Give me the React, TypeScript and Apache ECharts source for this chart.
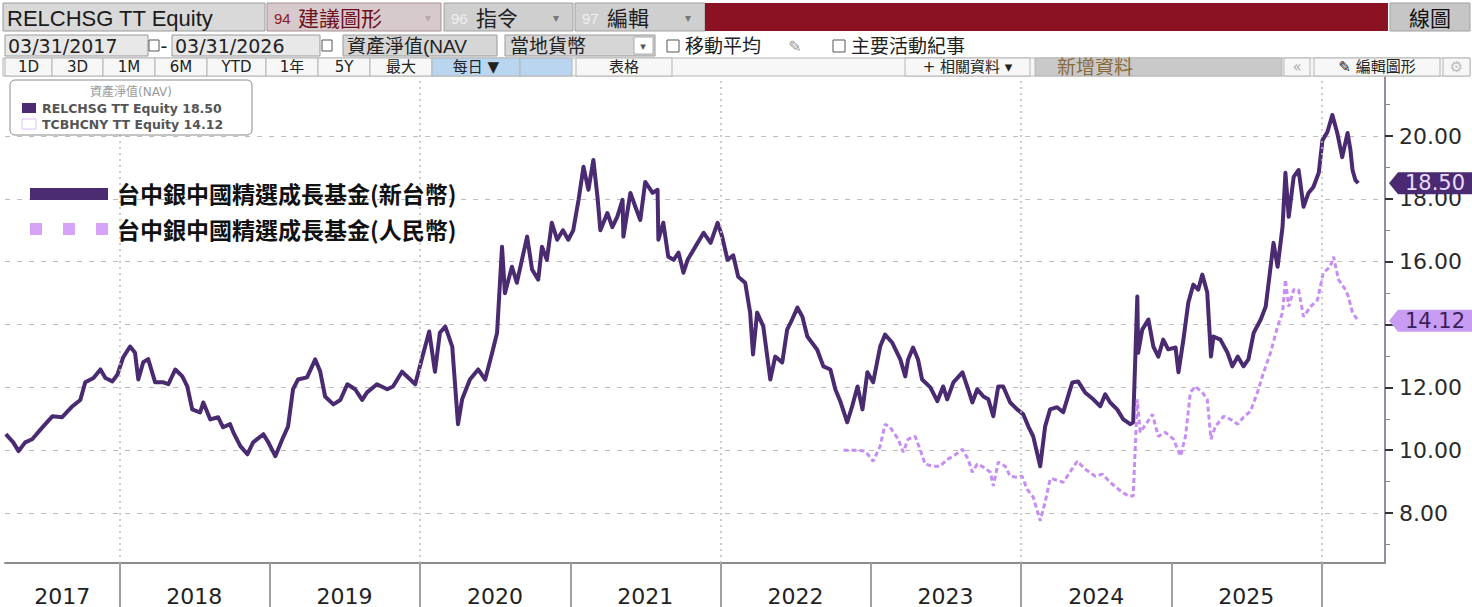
import React, { useEffect, useRef } from 'react';
import * as echarts from 'echarts';

// ---------------- DATA ----------------
const twdDates = [
  '2017-03-31','2017-04-18','2017-05-01','2017-05-17','2017-06-03','2017-06-30','2017-07-22','2017-08-15','2017-09-09','2017-09-28','2017-10-10','2017-10-30','2017-11-16','2017-11-28','2017-12-15','2017-12-27',
  '2018-01-10','2018-01-27','2018-02-08','2018-02-16','2018-02-28','2018-03-12','2018-03-29','2018-04-18','2018-04-30','2018-05-17','2018-06-03','2018-06-15','2018-06-27','2018-07-16','2018-07-24','2018-08-10','2018-08-29','2018-09-10','2018-09-27','2018-10-05','2018-10-22','2018-11-08','2018-11-22','2018-12-17','2018-12-29',
  '2019-01-15','2019-02-01','2019-02-15','2019-02-27','2019-03-11','2019-04-02','2019-04-22','2019-05-04','2019-05-16','2019-06-05','2019-06-22','2019-07-09','2019-07-28','2019-08-14','2019-08-26','2019-09-19','2019-10-14','2019-10-28','2019-11-19','2019-12-09','2019-12-21',
  '2020-01-07','2020-01-24','2020-02-07','2020-02-19','2020-03-03','2020-03-20','2020-04-03','2020-04-13','2020-05-02','2020-05-22','2020-06-08','2020-06-25','2020-07-07','2020-07-19','2020-07-26','2020-08-12','2020-08-24','2020-09-18','2020-09-30','2020-10-15','2020-10-24','2020-11-05','2020-11-17','2020-11-30','2020-12-14','2020-12-27',
  '2021-01-08','2021-01-21','2021-02-02','2021-02-14','2021-02-26','2021-03-08','2021-03-15','2021-04-01','2021-04-13','2021-04-25','2021-05-08','2021-05-10','2021-05-27','2021-06-08','2021-06-20','2021-07-02','2021-07-20','2021-08-01','2021-08-03','2021-08-15','2021-08-27','2021-09-09','2021-09-21','2021-10-03','2021-10-13','2021-11-01','2021-11-21','2021-12-08','2021-12-25',
  '2022-01-05','2022-01-18','2022-02-01','2022-02-13','2022-03-02','2022-03-14','2022-03-21','2022-03-31','2022-04-15','2022-05-02','2022-05-14','2022-05-31','2022-06-12','2022-06-24','2022-07-07','2022-07-19','2022-07-31','2022-08-24','2022-09-08','2022-09-25','2022-10-07','2022-10-19','2022-11-05','2022-11-17','2022-11-30','2022-12-12','2022-12-24',
  '2023-01-07','2023-01-24','2023-02-05','2023-02-22','2023-03-14','2023-03-26','2023-04-02','2023-04-14','2023-04-26','2023-05-06','2023-05-26','2023-06-12','2023-06-26','2023-07-06','2023-07-21','2023-08-12','2023-08-26','2023-09-05','2023-09-17','2023-10-02','2023-10-14','2023-10-26','2023-11-07','2023-11-19','2023-12-06','2023-12-23',
  '2024-01-07','2024-01-19','2024-01-31','2024-02-17','2024-02-29','2024-03-12','2024-03-29','2024-04-13','2024-05-05','2024-05-19','2024-06-05','2024-06-25','2024-07-12','2024-07-24','2024-08-05','2024-08-22','2024-09-06','2024-09-23','2024-09-30','2024-10-10','2024-10-12','2024-10-22','2024-11-06','2024-11-18','2024-11-30','2024-12-12','2024-12-24',
  '2025-01-11','2025-01-18','2025-01-30','2025-02-11','2025-02-23','2025-03-07','2025-03-17','2025-03-29','2025-04-07','2025-04-13','2025-04-30','2025-05-17','2025-05-29','2025-06-11','2025-06-25','2025-07-07','2025-07-20','2025-08-06','2025-08-18','2025-08-30','2025-09-06','2025-09-16','2025-09-28','2025-10-05','2025-10-13','2025-10-25','2025-11-06','2025-11-18','2025-11-30','2025-12-12','2025-12-25',
  '2026-01-03','2026-01-15','2026-01-27','2026-02-08','2026-02-20','2026-03-05','2026-03-12','2026-03-17','2026-03-24','2026-03-31',
];
const twdValues = [
  10.51,10.25,9.97,10.25,10.35,10.76,11.08,11.05,11.4,11.6,12.16,12.3,12.57,12.3,12.19,12.4,
  12.95,13.3,13.1,12.25,12.8,12.9,12.16,12.16,12.1,12.57,12.35,12.03,11.3,11.2,11.52,10.98,11.05,10.73,10.83,10.57,10.13,9.87,10.25,10.51,10.25,
  9.81,10.35,10.76,11.94,12.25,12.32,12.89,12.51,11.71,11.46,11.6,12.1,11.94,11.6,11.84,12.1,11.94,12.03,12.5,12.25,12.1,
  12.95,13.78,12.5,13.74,13.94,13.3,10.83,11.62,12.25,12.57,12.25,13.1,13.74,16.48,15.0,15.84,15.33,16.8,15.75,15.43,16.48,16.06,17.24,16.7,17.0,16.7,
  17.0,17.97,19.02,18.29,19.24,18.06,17.0,17.55,17.1,17.43,17.97,16.8,18.19,17.75,17.33,18.54,18.19,18.29,16.7,17.24,16.16,16.06,16.29,15.65,16.06,16.48,16.92,16.6,17.24,
  16.8,16.06,16.2,15.52,15.33,14.38,13.05,14.38,13.94,12.25,12.98,12.79,13.84,14.16,14.54,14.25,13.62,13.2,12.67,12.57,11.94,11.56,10.89,11.4,12.03,11.3,12.48,
  12.16,13.3,13.68,13.43,12.89,12.35,12.89,13.27,12.89,12.25,12.0,11.56,12.03,11.62,12.16,12.48,11.94,11.52,11.94,11.71,11.62,11.08,12.03,12.03,11.52,11.3,
  11.14,10.76,10.44,9.49,10.76,11.3,11.37,11.21,12.16,12.19,11.84,11.62,11.4,11.78,11.52,11.3,10.98,10.83,10.89,14.89,13.1,13.84,14.16,13.3,12.98,13.52,13.21,
  13.27,12.48,13.52,14.7,15.27,15.11,15.59,15.02,12.98,13.62,13.52,13.11,12.67,12.98,12.67,12.89,13.74,14.16,14.57,15.84,16.6,15.84,17.11,18.83,17.43,18.7,18.92,17.75,18.19,18.38,18.83,
  19.87,20.13,20.67,20.1,19.33,20.1,19.56,18.92,18.6,18.5,
];
const cnyDates = [
  '2022-10-27','2022-11-30','2022-12-19',
  '2023-01-07','2023-01-24','2023-02-05','2023-02-17','2023-03-09','2023-03-21','2023-04-02','2023-04-19','2023-05-01','2023-05-13','2023-06-02','2023-06-19','2023-07-06','2023-07-21','2023-08-12','2023-08-26','2023-09-05','2023-09-17','2023-10-02','2023-10-19','2023-10-26','2023-11-07','2023-11-24','2023-12-06','2023-12-23',
  '2024-01-04','2024-01-16','2024-01-31','2024-02-17','2024-02-29','2024-03-12','2024-03-20','2024-04-13','2024-05-17','2024-06-05','2024-06-30','2024-07-17','2024-08-05','2024-08-25','2024-09-18','2024-09-30','2024-10-10','2024-10-17','2024-11-03','2024-11-16','2024-11-30','2024-12-17',
  '2025-01-06','2025-01-23','2025-02-04','2025-02-16','2025-02-28','2025-03-17','2025-03-29','2025-04-07','2025-04-18','2025-05-08','2025-05-25','2025-06-11','2025-06-25','2025-07-12','2025-07-29','2025-08-13','2025-08-30','2025-09-16','2025-09-28','2025-10-05','2025-10-13','2025-10-25','2025-11-06','2025-11-18','2025-12-05','2025-12-22',
  '2026-01-05','2026-01-22','2026-01-30','2026-02-11','2026-02-28','2026-03-07','2026-03-17','2026-03-31',
];
const cnyValues = [
  10.0,10.0,9.97,
  9.65,10.13,10.83,10.73,10.35,9.94,10.35,10.44,10.03,9.56,9.49,9.49,9.71,9.81,10.03,9.71,9.3,9.56,9.46,9.3,8.86,9.62,9.49,9.17,9.14,
  9.17,8.76,8.51,7.75,8.35,9.08,9.08,8.98,9.65,9.4,9.17,9.24,8.98,8.76,8.54,8.54,11.62,10.57,10.89,11.14,10.44,10.57,
  10.35,9.81,10.44,11.84,12.03,11.84,11.62,10.35,10.76,11.08,10.98,10.83,11.05,11.24,11.84,12.48,13.11,13.94,14.38,15.43,14.57,15.11,15.11,14.25,14.57,14.79,
  15.65,15.84,16.16,15.43,15.11,14.89,14.38,14.12,
];
const yearStarts = ['2018-01-01','2019-01-01','2020-01-01','2021-01-01','2022-01-01','2023-01-01','2024-01-01','2025-01-01','2026-01-01'];
const yearLabelDates = ['2017-08-15','2018-07-02','2019-07-02','2020-07-02','2021-07-02','2022-07-02','2023-07-02','2024-07-02','2025-07-02'];
const gridYearDates = ['2018-01-01','2020-01-01','2022-01-01','2024-01-01','2026-01-01'];
const yMajorTicks = [8, 10, 12, 14, 16, 18, 20];
// 14.00 sits under the 14.12 value tag in the reference, so it is not labelled
const yLabelValues = [8, 10, 12, 16, 18, 20];
const yMinorTicks = [7, 9, 11, 13, 15, 17, 19, 21];
const xStart = '2017-03-29';
const xEnd = '2026-06-04';
const yMin = 6.41;
const yMax = 21.88;
const twdTicker = 'RELCHSG TT Equity';
const cnyTicker = 'TCBHCNY TT Equity';
const twdName = '台中銀中國精選成長基金(新台幣)';
const cnyName = '台中銀中國精選成長基金(人民幣)';
const legendTitle = '資產淨值(NAV)';
const startDateText = '03/31/2017';
const endDateText = '03/31/2026';

// ---------------- STYLE ----------------
const DARK = '#4a2a70';
const LIGHT = '#c68ef2';
const LIGHT_SQ = '#d6a3f8';
const FONT_UI = '"Liberation Sans", "Noto Sans CJK TC", sans-serif';
const FONT_V = '"DejaVu Sans", "Noto Sans CJK TC", sans-serif';
const FONT_CJK = '"Noto Sans CJK TC", "Noto Sans", sans-serif';

const ts = (s: string) => new Date(s + 'T00:00:00').getTime();

const rect = (x: number, y: number, w: number, h: number, fill: string, stroke?: string, r = 0) => ({
  type: 'rect', z: 100, shape: { x, y, width: w, height: h, r },
  style: { fill, stroke: stroke || 'none', lineWidth: 1 },
});
const text = (x: number, y: number, t: string, size: number, color: string, align = 'left', font = FONT_UI, weight = 'normal') => ({
  type: 'text', z: 101, x, y,
  style: { text: t, fontSize: size, fontFamily: font, fontWeight: weight, fill: color,
    textAlign: align, textVerticalAlign: 'middle', align, verticalAlign: 'middle' },
});

function buildGraphics(lastTwd: number, lastCny: number) {
  const g: any[] = [];
  // Row 1
  g.push(rect(3, 3, 262, 28, '#d9d9d9', '#9a9a9a'));
  g.push(text(7, 18, twdTicker, 22, '#1a1a1a'));
  g.push(rect(267, 3, 174, 28, '#d6cacc', '#a89090'));
  g.push(text(274, 18, '94', 15, '#8b1a2a'));
  g.push(text(298, 18, '建議圖形', 21, '#6e0f1e'));
  g.push(text(428, 18, '▾', 12, '#b8a8a8', 'center', FONT_V));
  g.push(rect(444, 3, 129, 28, '#cfcfcf', '#a0a0a0'));
  g.push(text(451, 18, '96', 15, '#f0f0f0'));
  g.push(text(476, 18, '指令', 21, '#222'));
  g.push(text(556, 18, '▾', 12, '#777', 'center', FONT_V));
  g.push(rect(575, 3, 130, 28, '#cfcfcf', '#a0a0a0'));
  g.push(text(582, 18, '97', 15, '#f0f0f0'));
  g.push(text(607, 18, '編輯', 21, '#222'));
  g.push(text(688, 18, '▾', 12, '#777', 'center', FONT_V));
  g.push(rect(705, 3, 683, 28, '#8a1222'));
  g.push(rect(1390, 3, 80, 28, '#c6c6c6', '#a0a0a0'));
  g.push(text(1430, 18, '線圖', 21, '#111', 'center'));
  // Row 2
  g.push(rect(5, 35, 143, 21, '#e8e8e8', '#9a9a9a'));
  g.push(text(8, 46, startDateText, 19, '#222', 'left', FONT_V));
  g.push(rect(149, 40, 10, 11, '#fff', '#555'));
  g.push(text(164, 46, '-', 19, '#222', 'center', FONT_V));
  g.push(rect(172, 35, 148, 21, '#e8e8e8', '#9a9a9a'));
  g.push(text(175, 46, endDateText, 19, '#222', 'left', FONT_V));
  g.push(rect(322, 40, 10, 11, '#fff', '#555'));
  g.push(rect(343, 35, 154, 21, '#d6d6d6', '#9a9a9a'));
  g.push(text(347, 46, '資產淨值(NAV', 19, '#222'));
  g.push(rect(505, 35, 150, 21, '#d6d6d6', '#9a9a9a'));
  g.push(text(510, 46, '當地貨幣', 19, '#222'));
  g.push(rect(634, 37, 19, 17, '#fff', '#aaa'));
  g.push(text(643, 46, '▾', 11, '#555', 'center', FONT_V));
  g.push(rect(667, 40, 12, 12, '#fff', '#555'));
  g.push(text(685, 46, '移動平均', 19, '#222'));
  g.push(text(795, 46, '✎', 16, '#999', 'center', FONT_V));
  g.push(rect(833, 40, 12, 12, '#fff', '#555'));
  g.push(text(851, 46, '主要活動紀事', 19, '#222'));
  // Row 3
  g.push(rect(3, 58, 1467, 18, '#f7f7f7', '#b5b5b5'));
  const cells: [string, number, number, string?, string?][] = [
    ['1D', 5, 52], ['3D', 52, 103], ['1M', 103, 155], ['6M', 155, 207], ['YTD', 207, 266],
    ['1年', 266, 318], ['5Y', 318, 370], ['最大', 370, 432], ['每日 ▼', 432, 520, '#b9d5ef'],
    ['', 520, 572, '#b9d5ef'], ['表格', 576, 672], ['+ 相關資料 ▾', 905, 1030],
    ['新增資料', 1035, 1282, '#c9c9c9', '#8a6a3a'], ['«', 1284, 1310, undefined, '#aaa'],
    ['✎ 編輯圖形', 1314, 1440], ['⚙', 1443, 1470, undefined, '#bbb'],
  ];
  cells.forEach(([t, x0, x1, bg, col]) => {
    g.push(rect(x0, 58, x1 - x0, 18, bg || '#f7f7f7', '#b5b5b5'));
    if (t === '新增資料') g.push(text(x0 + 22, 67, t, 19, col || '#222'));
    else if (t) g.push(text((x0 + x1) / 2, 67, t, 15, col || '#222', 'center', FONT_V));
  });
  // Bloomberg legend box
  g.push(rect(10, 80, 242, 55, '#fff', '#8a8a8a', 5));
  g.push(text(131, 92, legendTitle, 12, '#9a9a9a', 'center', FONT_V));
  g.push(rect(22, 103, 14, 10, DARK));
  g.push(text(42, 108, `${twdTicker} ${lastTwd.toFixed(2)}`, 12.5, '#555', 'left', FONT_V, 'bold'));
  g.push(rect(22, 119, 14, 10, '#fff', '#dcc0f6'));
  g.push(text(42, 124, `${cnyTicker} ${lastCny.toFixed(2)}`, 12.5, '#555', 'left', FONT_V, 'bold'));
  // Custom legend
  g.push(rect(30, 188, 78, 12, DARK));
  g.push(text(117, 193, twdName, 23, '#111', 'left', FONT_CJK, 'bold'));
  [30, 63, 96].forEach((x) => g.push(rect(x, 223, 12, 12, LIGHT_SQ)));
  g.push(text(117, 229, cnyName, 23, '#111', 'left', FONT_CJK, 'bold'));
  return g;
}

const tagPath = 'path://M0,11 L9,0 L84,0 L84,22 L9,22 Z';

export default function App() {
  const ref = useRef<HTMLDivElement>(null);
  useEffect(() => {
    if (!ref.current) return;
    const chart = echarts.init(ref.current, undefined, { renderer: 'svg' });
    const lastTwd = twdValues[twdValues.length - 1];
    const lastCny = cnyValues[cnyValues.length - 1];
    const xMaxTs = ts(xEnd);
    const option: any = {
      animation: false,
      backgroundColor: '#ffffff',
      grid: { left: 5, right: 87, top: 77, bottom: 44, containLabel: false },
      xAxis: {
        type: 'value', min: ts(xStart), max: xMaxTs,
        axisLine: { show: true, lineStyle: { color: '#8c8c8c', width: 2 } },
        axisTick: { show: true, customValues: yearStarts.map(ts), length: 44, lineStyle: { color: '#a0a0a0', width: 2 } },
        axisLabel: {
          show: true, customValues: yearLabelDates.map(ts),
          formatter: (v: number) => String(new Date(v).getFullYear()),
          fontSize: 22, color: '#222', margin: 22, fontFamily: FONT_V, hideOverlap: false,
        },
        splitLine: { show: false },
      },
      yAxis: [
        {
          type: 'value', position: 'right', min: yMin, max: yMax, splitNumber: 8,
          axisLine: { show: true, lineStyle: { color: '#958ca5', width: 2 } },
          axisTick: { show: true, customValues: yMajorTicks, length: 8, lineStyle: { color: '#333', width: 2 } },
          axisLabel: {
            customValues: yLabelValues, formatter: (v: number) => v.toFixed(2),
            fontSize: 22, color: '#2a2a2a', margin: 14, fontFamily: FONT_V,
          },
          splitLine: { show: true, lineStyle: { color: '#bcbcbc', type: [5, 7], width: 1 } },
        },
        {
          type: 'value', position: 'right', min: yMin, max: yMax,
          axisLine: { show: false },
          axisTick: { show: true, customValues: yMinorTicks, length: 5, lineStyle: { color: '#888', width: 1 } },
          axisLabel: { show: false },
          splitLine: { show: false },
        },
      ],
      series: [
        {
          type: 'line', name: 'grid', data: [], silent: true, z: 1,
          markLine: {
            silent: true, symbol: ['none', 'none'], animation: false,
            label: { show: false },
            lineStyle: { color: '#bdbdbd', type: [2, 4], width: 1.5 },
            data: gridYearDates.map((d) => ({ xAxis: ts(d) })),
          },
        },
        {
          type: 'line', name: twdTicker, z: 3,
          data: twdDates.map((d, i) => [ts(d), twdValues[i]]),
          showSymbol: false, symbol: 'none',
          lineStyle: { color: DARK, width: 4, join: 'round' },
          markPoint: {
            symbol: tagPath, symbolSize: [84, 22], symbolOffset: [46, 0], symbolKeepAspect: false,
            itemStyle: { color: DARK },
            label: { show: true, position: 'inside', offset: [4, 0], color: '#e8dcff', fontSize: 21, fontFamily: FONT_V,
              formatter: () => lastTwd.toFixed(2) },
            data: [{ coord: [xMaxTs, lastTwd], value: lastTwd }],
          },
        },
        {
          type: 'line', name: cnyTicker, z: 4,
          data: cnyDates.map((d, i) => [ts(d), cnyValues[i]]),
          showSymbol: false, symbol: 'none',
          lineStyle: { color: LIGHT, width: 3, type: [5, 3] },
          markPoint: {
            symbol: tagPath, symbolSize: [84, 22], symbolOffset: [46, 0], symbolKeepAspect: false,
            itemStyle: { color: '#c89cf2' },
            label: { show: true, position: 'inside', offset: [4, 0], color: '#3a1f5c', fontSize: 21, fontFamily: FONT_V,
              formatter: () => lastCny.toFixed(2) },
            data: [{ coord: [xMaxTs, lastCny], value: lastCny }],
          },
        },
      ],
      graphic: buildGraphics(lastTwd, lastCny),
    };
    chart.setOption(option);
    return () => chart.dispose();
  }, []);
  return (
    <div style={{ position: 'fixed', left: 0, top: 0, width: 1472, height: 607, background: '#fff' }}>
      <div ref={ref} style={{ width: 1472, height: 607 }} />
    </div>
  );
}
